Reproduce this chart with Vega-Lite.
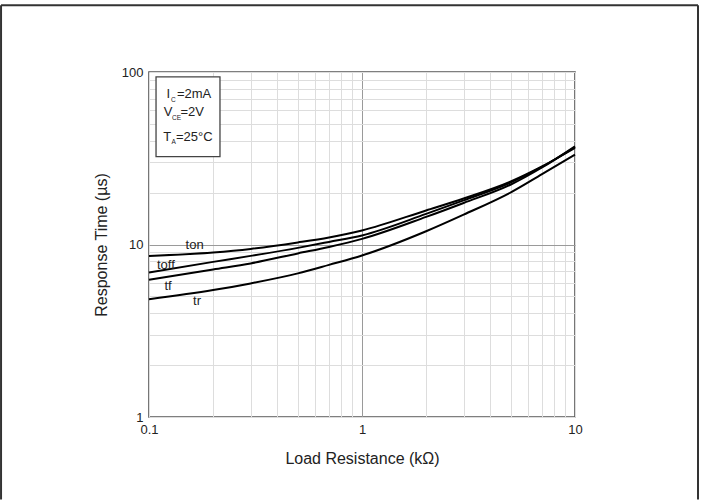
{
  "$schema": "https://vega.github.io/schema/vega-lite/v6.json",
  "width": 426,
  "height": 345,
  "autosize": {"type": "none"},
  "padding": {"left": 149, "top": 72, "right": 129, "bottom": 83},
  "background": "white",
  "config": {
    "view": {"stroke": "#555555", "strokeWidth": 1.6, "fill": "white"},
    "font": "Liberation Sans",
    "text": {"font": "Liberation Sans"}
  },
  "datasets": {
    "curves": [
      {"R": 0.1, "t": 8.59, "series": "ton"},
      {"R": 0.2, "t": 9.0, "series": "ton"},
      {"R": 0.3, "t": 9.43, "series": "ton"},
      {"R": 0.5, "t": 10.28, "series": "ton"},
      {"R": 0.7, "t": 10.99, "series": "ton"},
      {"R": 1, "t": 12.07, "series": "ton"},
      {"R": 2, "t": 15.76, "series": "ton"},
      {"R": 3, "t": 18.49, "series": "ton"},
      {"R": 5, "t": 23.19, "series": "ton"},
      {"R": 7, "t": 28.33, "series": "ton"},
      {"R": 10, "t": 36.26, "series": "ton"},
      {"R": 0.1, "t": 6.88, "series": "toff"},
      {"R": 0.2, "t": 7.93, "series": "toff"},
      {"R": 0.3, "t": 8.59, "series": "toff"},
      {"R": 0.5, "t": 9.56, "series": "toff"},
      {"R": 0.7, "t": 10.35, "series": "toff"},
      {"R": 1, "t": 11.29, "series": "toff"},
      {"R": 2, "t": 15.04, "series": "toff"},
      {"R": 3, "t": 18.03, "series": "toff"},
      {"R": 5, "t": 22.89, "series": "toff"},
      {"R": 7, "t": 28.2, "series": "toff"},
      {"R": 10, "t": 36.74, "series": "toff"},
      {"R": 0.1, "t": 6.24, "series": "tf"},
      {"R": 0.2, "t": 7.17, "series": "tf"},
      {"R": 0.3, "t": 7.77, "series": "tf"},
      {"R": 0.5, "t": 8.88, "series": "tf"},
      {"R": 0.7, "t": 9.68, "series": "tf"},
      {"R": 1, "t": 10.78, "series": "tf"},
      {"R": 2, "t": 14.45, "series": "tf"},
      {"R": 3, "t": 17.41, "series": "tf"},
      {"R": 5, "t": 22.28, "series": "tf"},
      {"R": 7, "t": 27.95, "series": "tf"},
      {"R": 10, "t": 37.09, "series": "tf"},
      {"R": 0.1, "t": 4.82, "series": "tr"},
      {"R": 0.2, "t": 5.44, "series": "tr"},
      {"R": 0.3, "t": 5.95, "series": "tr"},
      {"R": 0.5, "t": 6.8, "series": "tr"},
      {"R": 0.7, "t": 7.62, "series": "tr"},
      {"R": 1, "t": 8.64, "series": "tr"},
      {"R": 2, "t": 11.94, "series": "tr"},
      {"R": 3, "t": 14.9, "series": "tr"},
      {"R": 5, "t": 20.06, "series": "tr"},
      {"R": 7, "t": 25.57, "series": "tr"},
      {"R": 10, "t": 33.16, "series": "tr"}
    ],
    "curveLabels": [
      {"R": 0.1637, "t": 10.0, "label": "ton"},
      {"R": 0.12, "t": 7.62, "label": "toff"},
      {"R": 0.1228, "t": 5.76, "label": "tf"},
      {"R": 0.168, "t": 4.73, "label": "tr"}
    ],
    "boxMain": [
      {"R": 0.1208, "t": 70.6, "label": "I"},
      {"R": 0.1353, "t": 70.6, "label": "=2mA"},
      {"R": 0.1172, "t": 55.5, "label": "V"},
      {"R": 0.1406, "t": 55.5, "label": "=2V"},
      {"R": 0.1167, "t": 39.8, "label": "T"},
      {"R": 0.1338, "t": 39.8, "label": "=25°C"}
    ],
    "boxSub": [
      {"R": 0.1269, "t": 67.2, "label": "C"},
      {"R": 0.1282, "t": 53.0, "label": "CE"},
      {"R": 0.1275, "t": 38.0, "label": "A"}
    ]
  },
  "layer": [
    {
      "data": {"name": "curves"},
      "mark": {"type": "line", "color": "black", "strokeWidth": 2, "interpolate": "monotone"},
      "encoding": {
        "x": {
          "field": "R", "type": "quantitative",
          "scale": {"type": "log", "domain": [0.1, 10]},
          "axis": {
            "values": [0.1, 0.2, 0.3, 0.4, 0.5, 0.6, 0.7, 0.8, 0.9, 1, 2, 3, 4, 5, 6, 7, 8, 9, 10],
            "labelExpr": "datum.value == 0.1 ? '0.1' : datum.value == 1 ? '1' : datum.value == 10 ? '10' : ''",
            "labelOverlap": false,
            "labelFlush": false,
            "ticks": false,
            "domain": false,
            "grid": true,
            "gridColor": {"condition": {"test": "datum.value == 1", "value": "#9a9a9a"}, "value": "#dddddd"},
            "gridWidth": 1,
            "title": "Load Resistance (kΩ)",
            "labelFontSize": 13,
            "labelColor": "#222222",
            "labelPadding": 6,
            "titleFontSize": 16,
            "titleFontWeight": "normal",
            "titleColor": "#222222",
            "titlePadding": 14
          }
        },
        "y": {
          "field": "t", "type": "quantitative",
          "scale": {"type": "log", "domain": [1, 100]},
          "axis": {
            "values": [1, 2, 3, 4, 5, 6, 7, 8, 9, 10, 20, 30, 40, 50, 60, 70, 80, 90, 100],
            "labelExpr": "datum.value == 1 ? '1' : datum.value == 10 ? '10' : datum.value == 100 ? '100' : ''",
            "labelOverlap": false,
            "labelFlush": false,
            "ticks": false,
            "domain": false,
            "grid": true,
            "gridColor": {"condition": {"test": "datum.value == 10", "value": "#9a9a9a"}, "value": "#dddddd"},
            "gridWidth": 1,
            "title": "Response Time (µs)",
            "labelFontSize": 13,
            "labelColor": "#222222",
            "labelPadding": 6,
            "titleFontSize": 16,
            "titleFontWeight": "normal",
            "titleColor": "#222222",
            "titlePadding": 12
          }
        },
        "detail": {"field": "series", "type": "nominal"}
      }
    },
    {
      "data": {"values": [{}]},
      "mark": {"type": "rule", "color": "#333333", "strokeWidth": 2},
      "encoding": {
        "x": {"datum": 0.0202, "type": "quantitative", "scale": {"type": "log", "domain": [0.1, 10]}},
        "y": {"datum": 0.332, "type": "quantitative", "scale": {"type": "log", "domain": [1, 100]}},
        "y2": {"datum": 244.1}
      }
    },
    {
      "data": {"values": [{}]},
      "mark": {"type": "rule", "color": "#333333", "strokeWidth": 2},
      "encoding": {
        "x": {"datum": 37.8, "type": "quantitative", "scale": {"type": "log", "domain": [0.1, 10]}},
        "y": {"datum": 0.332, "type": "quantitative", "scale": {"type": "log", "domain": [1, 100]}},
        "y2": {"datum": 244.1}
      }
    },
    {
      "data": {"values": [{}]},
      "mark": {"type": "rule", "color": "#333333", "strokeWidth": 2},
      "encoding": {
        "x": {"datum": 0.0202, "type": "quantitative", "scale": {"type": "log", "domain": [0.1, 10]}},
        "x2": {"datum": 37.8},
        "y": {"datum": 244.1, "type": "quantitative", "scale": {"type": "log", "domain": [1, 100]}}
      }
    },
    {
      "data": {"name": "curveLabels"},
      "mark": {"type": "text", "fontSize": 13, "color": "#222222", "align": "center", "baseline": "middle"},
      "encoding": {
        "x": {"field": "R", "type": "quantitative", "scale": {"type": "log", "domain": [0.1, 10]}},
        "y": {"field": "t", "type": "quantitative", "scale": {"type": "log", "domain": [1, 100]}},
        "text": {"field": "label"}
      }
    },
    {
      "data": {"values": [{}]},
      "mark": {"type": "rect", "fill": "white", "stroke": "#444444", "strokeWidth": 1.3},
      "encoding": {
        "x": {"datum": 0.1079, "type": "quantitative", "scale": {"type": "log", "domain": [0.1, 10]}},
        "x2": {"datum": 0.2154},
        "y": {"datum": 93.8, "type": "quantitative", "scale": {"type": "log", "domain": [1, 100]}},
        "y2": {"datum": 32.3}
      }
    },
    {
      "data": {"name": "boxMain"},
      "mark": {"type": "text", "fontSize": 13, "color": "#222222", "align": "left", "baseline": "alphabetic"},
      "encoding": {
        "x": {"field": "R", "type": "quantitative", "scale": {"type": "log", "domain": [0.1, 10]}},
        "y": {"field": "t", "type": "quantitative", "scale": {"type": "log", "domain": [1, 100]}},
        "text": {"field": "label"}
      }
    },
    {
      "data": {"name": "boxSub"},
      "mark": {"type": "text", "fontSize": 6.5, "color": "#222222", "align": "left", "baseline": "alphabetic"},
      "encoding": {
        "x": {"field": "R", "type": "quantitative", "scale": {"type": "log", "domain": [0.1, 10]}},
        "y": {"field": "t", "type": "quantitative", "scale": {"type": "log", "domain": [1, 100]}},
        "text": {"field": "label"}
      }
    }
  ]
}
